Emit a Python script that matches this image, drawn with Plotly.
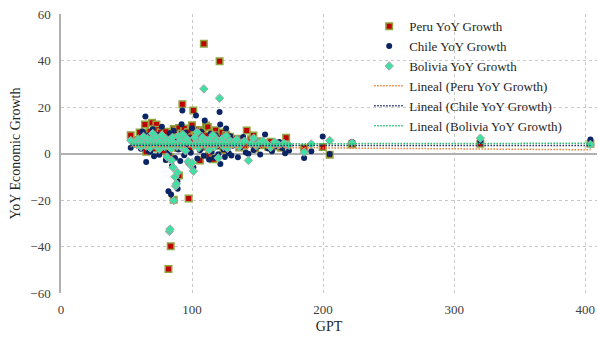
import plotly.graph_objects as go

# ---------------- data ----------------
peru_gpt = [53.2, 58, 60, 62, 63, 64, 65, 66, 67, 68, 69.5, 70, 71, 72, 72.8, 74, 75, 76, 77, 78, 79, 80,
            81, 82, 82, 83, 83.7, 84, 85, 86, 86, 87, 88, 89, 90, 90, 91, 92, 92.6, 93, 94, 95, 96, 97,
            97.4, 98, 99, 100, 101, 102, 103, 104, 105, 106, 107, 108, 109, 110, 110.7, 111, 112, 113,
            114, 115, 116, 117, 118, 119, 120, 121, 122, 123, 124, 125, 126, 128, 129, 130, 132, 134,
            136, 138, 140, 141.7, 143, 145, 146.8, 148, 150, 152, 155, 158, 160, 163, 165, 168, 171.8,
            185.5, 199.7, 205, 222, 320, 404]
peru_val = [7.9, 5.8, 9.0, 4.5, 6.2, 12.5, 0.8, 8.9, 3.5, 9.5, 13.2, 5.2, 2.1, 7.4, 12.5, 10.2, 4.8, 9.1,
            6.5, 1.2, 8.0, 9.4, -2.2, 5.6, -49.7, -1.5, -39.9, 7.8, 3.2, 10.5, -19.9, 6.1, 9.9, 2.4,
            11.0, -9.5, 4.3, 8.6, 21.2, 6.9, 10.8, 3.7, 5.4, 9.2, -19.4, 1.9, 7.1, 12.2, 18.5, 4.9, 8.3,
            6.0, 10.1, -3.0, 5.1, 9.7, 47.2, 2.8, 12.0, 7.6, 11.4, -0.9, 4.0, 8.8, -2.5, 6.4, 10.0, 3.3,
            7.9, 39.7, 5.5, 9.0, 1.5, 6.8, 8.1, 3.9, 7.2, 5.0, 4.6, 6.3, 2.6, 5.7, 3.4, 9.9, 4.8, 6.1,
            7.7, 2.2, 5.3, 3.6, 4.4, 2.9, 5.1, 3.0, 4.1, 2.5, 6.8, 2.3, 2.8, -0.5, 3.9, 4.2, 4.2]

chile_gpt = [53.2, 56, 58, 60, 61, 62, 63, 64.4, 65, 66, 67, 68, 69, 70, 71, 72, 73, 74, 75, 76, 77, 78,
             79, 80, 81, 82, 82.5, 83, 84, 84.5, 84.7, 85, 86, 87, 88, 88.8, 89, 89.5, 90, 91, 92, 92.6,
             93, 94, 95, 96, 97, 98, 99, 100, 101, 102, 103, 104, 105, 106, 107, 108, 109, 109.7, 111,
             112, 113, 114, 115, 116, 117, 118, 119, 120, 121, 121.5, 121.6, 123, 124, 125, 126, 127,
             128, 129, 130, 131, 133, 135, 137, 139, 141, 143, 145, 147, 150, 152, 155.7, 158, 161, 164,
             166.6, 169, 171, 174, 185.5, 191, 199.7, 205, 222, 320, 404]
chile_val = [2.5, 3.8, 5.5, 6.8, 2.0, 9.5, 4.2, 15.9, -3.7, 7.7, 1.0, 0.7, 5.9, 10.4, -1.2, 3.3, 8.1,
             6.0, -0.5, 4.7, 11.5, 2.6, 7.0, -2.8, 5.2, -16.2, 0.5, 8.7, -17.6, -2.5, -5.3, 3.9, 9.8,
             -1.9, 6.3, -11.9, -15.2, 1.7, 7.5, -3.2, 12.6, 18.5, 4.4, -0.8, 8.9, 2.2, -3.9, 6.6, 0.3,
             10.9, -5.9, 3.6, 16.3, -2.1, 7.3, 1.4, 9.2, 4.0, -1.0, 14.2, 6.2, 2.9, -2.6, 8.4, 0.9, 5.0,
             -1.8, 7.8, 3.1, -0.3, 17.8, 12.5, -4.5, 6.9, 1.8, -1.5, 10.7, 4.6, 0.2, 7.4, -0.9, 3.3, 5.8,
             -1.6, 2.7, 7.1, 0.4, -0.1, 4.3, 1.5, 3.0, -0.4, 8.2, 2.1, 1.0, 3.2, 4.9, 2.4, 0.1, 1.3,
             -1.9, 1.0, 7.3, -0.2, 4.9, 5.4, 6.0]

bolivia_gpt = [53.2, 56, 58, 59, 60, 61, 62, 63, 64, 65, 66, 67, 68, 69, 70, 71, 72, 73, 74, 75, 76, 77,
               78, 79, 80, 81, 82, 82.7, 83, 83.2, 84, 84.5, 85, 85.5, 86, 86.5, 87, 87.5, 88, 88.5, 89,
               89.5, 90, 91, 92, 93, 94, 95, 96, 97, 98, 99, 100, 101, 101.5, 102, 103, 104, 105, 106,
               107, 108, 109, 110, 111, 112, 113, 114, 115, 116, 117, 118, 119, 120, 121, 122, 123, 124,
               125, 126, 127, 128, 129, 130, 132, 134, 136, 138, 140, 143, 145, 147, 149, 151, 154, 157,
               160, 163, 166, 170, 174, 185.5, 191, 205, 222, 320, 404]
bolivia_val = [5.6, 4.3, 3.8, 6.2, 4.5, 2.9, 5.4, 7.3, 4.1, 3.2, 6.5, 4.8, 2.4, 5.9, 8.6, 4.3, 3.5, 6.8,
               4.6, 1.8, 5.2, 7.9, 4.3, 3.0, 6.1, -1.5, 4.4, -33.5, 5.8, -32.5, 2.0, -3.0, 6.9, -6.0,
               -20.2, 4.2, -10.0, -14.0, -13.0, 3.1, -8.2, 7.5, 4.3, 5.6, 2.7, 8.2, 4.5, 1.2, 6.3, -3.5,
               4.4, -5.0, -4.0, -7.6, 3.4, 6.8, 4.2, 9.1, 2.5, 5.1, 4.4, 7.0, 27.8, 3.6, 5.7, 4.3, 1.5,
               6.4, 4.0, 8.0, 2.8, 4.6, 5.9, -1.9, 23.8, 4.3, 6.2, 3.0, 4.5, 7.6, 2.2, 4.4, 5.5, 3.8, 4.3,
               6.0, 2.9, 4.5, 5.3, -3.0, 4.2, 6.6, 3.3, 4.6, 5.4, 4.1, 2.6, 4.9, 3.7, 4.4, 3.5, 0.6, 4.1,
               5.6, 4.5, 6.6, 3.9]

# linear trend lines (endpoints)
trend_gpt = [53, 404]
peru_trend = [3.0, 1.6]
chile_trend = [3.5, 3.4]
bolivia_trend = [4.1, 4.4]

x_ticks = [0, 100, 200, 300, 400]
y_ticks = [-60, -40, -20, 0, 20, 40, 60]

FONT = "Liberation Serif"
TXT = "#404040"

fig = go.Figure()
fig.add_trace(go.Scatter(
    x=peru_gpt, y=peru_val, mode="markers", name="Peru YoY Growth",
    marker=dict(symbol="square", size=6.5, color="#C00000",
                line=dict(color="#8FA33F", width=1.5))))
fig.add_trace(go.Scatter(
    x=chile_gpt, y=chile_val, mode="markers", name="Chile YoY Growth",
    marker=dict(symbol="circle", size=6, color="#0B2463", line=dict(width=0))))
fig.add_trace(go.Scatter(
    x=bolivia_gpt, y=bolivia_val, mode="markers", name="Bolivia YoY Growth",
    marker=dict(symbol="diamond", size=6.5, color="#3EE0A4",
                line=dict(color="#A6A6A6", width=1))))
fig.add_trace(go.Scatter(
    x=trend_gpt, y=peru_trend, mode="lines", name="Lineal (Peru YoY Growth)",
    line=dict(color="#ED7D31", width=1.5, dash="1.5px,1.5px")))
fig.add_trace(go.Scatter(
    x=trend_gpt, y=chile_trend, mode="lines", name="Lineal (Chile YoY Growth)",
    line=dict(color="#1F2F6B", width=1.5, dash="1.5px,1.5px")))
fig.add_trace(go.Scatter(
    x=trend_gpt, y=bolivia_trend, mode="lines", name="Lineal (Bolivia YoY Growth)",
    line=dict(color="#22C06A", width=1.5, dash="1.5px,1.5px")))

fig.update_layout(
    width=598, height=342,
    margin=dict(l=61, r=1, t=14, b=49, autoexpand=False),
    paper_bgcolor="white", plot_bgcolor="white",
    font=dict(family=FONT, size=13, color=TXT),
    showlegend=True,
    legend=dict(x=0.575, y=1.01, xanchor="left", yanchor="top",
                bgcolor="rgba(0,0,0,0)", font=dict(family=FONT, size=13, color="#262626"),
                tracegroupgap=0, itemwidth=30),
    xaxis=dict(range=[0, 409], tickvals=x_ticks, showgrid=True, gridcolor="#C8C8C8",
               griddash="dot", gridwidth=1, zeroline=False, showline=False, automargin=False,
               ticks="", ticklabelstandoff=7, ticklabeloverflow="allow",
               title=dict(text="GPT", font=dict(family=FONT, size=14, color="#262626"), standoff=5)),
    yaxis=dict(range=[-60, 60], tickvals=y_ticks, showgrid=True, gridcolor="#C8C8C8",
               griddash="dot", gridwidth=1, zeroline=True, zerolinecolor="#B0B0B0",
               zerolinewidth=1.5, showline=True, linecolor="#B0B0B0", linewidth=1.5,
               automargin=False, ticks="", ticklabelstandoff=6, ticklabeloverflow="allow",
               title=dict(text="YoY Economic Growth", font=dict(family=FONT, size=14, color="#262626"),
                          standoff=6)),
)

# remove the default 8px page margin so the 598x342 figure fills the window exactly
fig.write_html("out.html", config={"displayModeBar": False},
               post_script="document.body.style.margin='0';document.body.style.overflow='hidden';")
